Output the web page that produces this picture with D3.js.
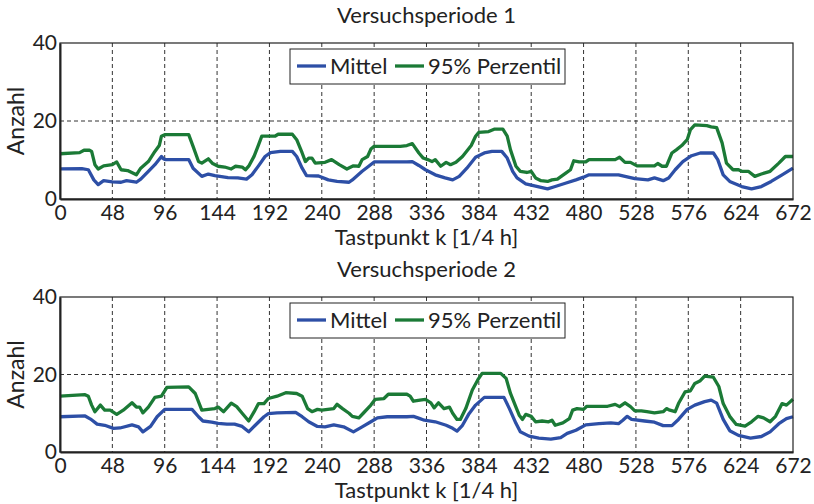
<!DOCTYPE html>
<html>
<head>
<meta charset="utf-8">
<script src="https://cdn.jsdelivr.net/npm/d3@7"></script>
<style>
  body { margin: 0; background: #fff; }
  svg text { font-family: Lato, "Open Sans", sans-serif; fill: #222; }
</style>
</head>
<body>
<svg id="chart" width="814" height="504"></svg>
<script>
// Werte: [Tastpunkt k, Anzahl]
let p1Mittel = [[0,7.7],[20,7.8],[26,7.5],[31,4.9],[35,3.7],[40,4.7],[48,4.4],[56,4.3],[61,4.7],[70,4.3],[74,5.1],[81,7.1],[87,8.8],[93,10.9],[95,10.3],[97,10.1],[118,10.1],[122,7.9],[130,5.8],[136,6.4],[142,6.0],[154,5.5],[163,5.4],[171,5.1],[176,6.2],[182,8.5],[188,10.9],[193,11.9],[202,12.2],[213,12.2],[217,10.9],[222,7.9],[226,6.0],[237,5.9],[246,4.9],[254,4.5],[265,4.3],[268,4.9],[277,7.1],[283,8.4],[288,9.5],[318,9.5],[323,9.6],[329,8.6],[335,7.5],[344,6.2],[353,5.4],[360,4.9],[366,5.8],[373,7.9],[381,10.7],[389,11.8],[396,12.2],[405,12.2],[410,10.5],[415,7.1],[419,5.4],[427,3.9],[438,3.2],[447,2.6],[454,3.2],[464,4.1],[473,4.9],[480,5.6],[485,6.2],[512,6.2],[527,5.2],[539,4.9],[545,5.4],[553,4.7],[558,5.4],[564,7.5],[571,9.6],[579,11.1],[587,11.8],[599,11.8],[603,10.1],[608,6.2],[614,4.5],[625,3.2],[634,2.6],[643,3.2],[652,4.5],[662,6.2],[672,7.9]];

let p1Perzentil = [[0,11.6],[18,11.9],[22,12.5],[27,12.5],[29,12.2],[32,8.8],[35,7.7],[40,8.5],[48,8.8],[52,9.5],[56,7.5],[62,7.3],[70,6.2],[74,7.9],[81,9.6],[87,12.2],[91,13.7],[93,16.1],[96,16.5],[118,16.5],[122,13.5],[127,9.6],[130,9.2],[136,10.3],[140,9.1],[145,8.4],[151,8.2],[157,7.7],[161,8.4],[167,8.2],[170,7.5],[173,8.4],[178,11.0],[182,13.9],[185,16.1],[197,16.1],[200,16.6],[213,16.6],[217,15.2],[222,11.8],[225,9.6],[228,10.5],[231,10.5],[234,9.2],[243,9.4],[249,10.1],[256,8.8],[263,7.7],[269,8.5],[274,8.4],[277,10.1],[282,10.9],[285,12.8],[288,13.5],[312,13.5],[318,13.7],[323,14.2],[329,11.8],[333,10.5],[337,10.1],[341,9.6],[344,10.1],[349,8.4],[354,9.4],[358,8.8],[363,9.4],[369,10.9],[377,13.7],[381,16.1],[384,17.1],[393,17.3],[398,17.9],[406,17.9],[410,16.1],[413,12.6],[418,8.4],[422,7.1],[428,6.8],[432,7.1],[436,5.4],[441,4.7],[447,4.5],[451,4.9],[456,5.1],[464,6.7],[468,7.5],[471,9.8],[476,9.5],[482,9.5],[485,10.1],[509,10.1],[513,10.7],[518,9.4],[523,9.4],[529,8.5],[545,8.5],[548,9.1],[552,8.4],[556,8.4],[561,11.8],[565,12.6],[570,13.7],[575,15.2],[578,17.8],[582,19.0],[593,18.8],[597,18.5],[602,18.3],[607,14.4],[611,9.2],[617,7.5],[622,7.5],[625,7.1],[631,7.1],[637,5.8],[643,6.4],[651,7.1],[659,9.2],[665,10.9],[672,10.9]];

let p2Mittel = [[0,9.1],[23,9.3],[28,8.5],[34,7.2],[41,6.9],[49,6.1],[55,6.2],[66,7.0],[72,6.5],[76,5.2],[83,6.6],[89,9.1],[96,11.0],[121,11.0],[127,9.1],[131,8.0],[139,7.7],[145,7.4],[153,7.2],[160,7.2],[167,6.6],[173,5.2],[179,6.9],[187,9.1],[191,9.9],[199,10.1],[216,10.2],[222,9.1],[228,7.8],[236,6.6],[243,6.5],[251,7.0],[260,6.5],[269,5.2],[277,6.5],[285,7.8],[291,8.8],[300,9.1],[318,9.1],[324,9.2],[330,8.6],[334,8.2],[344,7.8],[354,6.9],[360,6.1],[364,5.4],[369,6.9],[375,9.9],[381,12.1],[389,14.1],[407,14.1],[412,11.2],[418,7.4],[422,5.2],[430,4.1],[439,3.6],[450,3.3],[459,3.7],[465,4.8],[473,5.6],[482,7.0],[494,7.3],[505,7.5],[512,7.3],[516,8.2],[520,9.2],[524,8.4],[536,8.0],[545,7.7],[553,6.8],[561,6.8],[567,8.4],[575,11.0],[582,12.1],[591,13.0],[597,13.4],[602,12.6],[608,8.4],[614,5.5],[622,4.3],[633,3.6],[643,4.0],[651,5.2],[659,7.3],[666,8.6],[672,9.1]];

let p2Perzentil = [[0,14.4],[23,14.8],[26,14.4],[29,12.1],[32,10.4],[37,12.1],[41,10.8],[46,10.8],[52,9.7],[58,10.8],[66,12.7],[70,11.6],[73,11.6],[76,10.1],[81,11.6],[87,14.1],[93,14.4],[98,16.7],[118,16.8],[124,15.1],[130,10.8],[136,11.0],[142,11.2],[145,11.6],[150,10.4],[157,12.6],[162,11.7],[167,10.0],[173,8.0],[178,10.4],[182,12.5],[187,12.5],[191,13.8],[199,14.4],[207,15.3],[217,15.1],[222,14.4],[227,11.2],[231,10.4],[236,11.0],[240,10.8],[251,11.2],[254,12.3],[259,11.2],[265,10.0],[268,9.2],[274,8.8],[278,10.0],[285,12.1],[289,13.6],[297,13.8],[301,14.9],[318,14.9],[321,14.4],[324,13.1],[330,13.4],[335,13.6],[340,12.7],[343,11.4],[347,12.7],[352,11.2],[357,11.6],[360,10.0],[364,8.4],[367,8.4],[372,11.2],[378,16.0],[383,18.6],[387,20.3],[404,20.3],[409,19.0],[413,15.1],[418,11.6],[421,9.5],[424,8.4],[427,9.7],[432,9.2],[436,7.8],[442,8.0],[448,7.8],[451,8.2],[454,6.9],[461,7.5],[467,8.6],[470,10.8],[474,11.2],[480,11.0],[483,11.8],[502,11.8],[509,12.3],[513,11.7],[518,12.7],[523,11.7],[527,10.6],[533,10.6],[538,10.4],[545,10.1],[553,10.4],[556,11.2],[559,10.8],[564,10.4],[567,12.5],[573,15.5],[578,15.8],[582,17.7],[587,18.4],[591,19.6],[599,19.3],[604,16.9],[608,12.5],[614,9.2],[620,7.1],[628,6.7],[634,7.8],[640,9.2],[645,8.8],[651,7.8],[656,9.2],[662,12.5],[666,12.1],[672,13.6]];

let titel = ["Versuchsperiode 1", "Versuchsperiode 2"];
let xTicks = [0, 48, 96, 144, 192, 240, 288, 336, 384, 432, 480, 528, 576, 624, 672];
let yTicks = [0, 20, 40];
let legende = ["Mittel", "95% Perzentil"];

let farben = ["#2d4fa6", "#1b7a36"];
let svg = d3.select("#chart");

let x = d3.scaleLinear().domain([0, 672]).range([60, 793]);

function panel(top, bottom, name, mittel, perz) {
    let y = d3.scaleLinear().domain([0, 40]).range([bottom, top]);
    let g = svg.append("g");

    // gitter gestrichelt
    g.selectAll(".gx")
        .data(xTicks.slice(1, -1))
        .enter().append("line")
        .attr("x1", d => x(d)).attr("x2", d => x(d))
        .attr("y1", top).attr("y2", bottom)
        .attr("stroke", "#333").attr("stroke-width", 1)
        .attr("stroke-dasharray", "4,3");
    g.selectAll(".gy")
        .data(yTicks.slice(1, -1))
        .enter().append("line")
        .attr("x1", x(0)).attr("x2", x(672))
        .attr("y1", d => y(d)).attr("y2", d => y(d))
        .attr("stroke", "#333").attr("stroke-width", 1)
        .attr("stroke-dasharray", "4,3");

    let linie = d3.line()
        .x(d => x(d[0]))
        .y(d => y(d[1]));

    [mittel, perz].forEach((serie, i) => {
        g.append("path")
            .datum(serie)
            .attr("d", linie)
            .attr("fill", "none")
            .attr("stroke", farben[i])
            .attr("stroke-width", 3.3)
            .attr("stroke-linejoin", "round");
    });

    // rahmen
    g.append("rect")
        .attr("x", x(0)).attr("y", top)
        .attr("width", x(672) - x(0)).attr("height", bottom - top)
        .attr("fill", "none").attr("stroke", "#222").attr("stroke-width", 1.2);

    // achsen
    let ax = g.append("g")
        .attr("transform", `translate(0,${bottom})`)
        .call(d3.axisBottom(x).tickValues(xTicks).tickSize(0).tickPadding(6));
    ax.select(".domain").attr("stroke", "#222").attr("stroke-width", 2);
    ax.selectAll("text").style("font-size", "21px").style("font-family", "Lato");

    let ay = g.append("g")
        .attr("transform", `translate(${x(0)},0)`)
        .call(d3.axisLeft(y).tickValues(yTicks).tickSize(0).tickPadding(3));
    ay.select(".domain").attr("stroke", "#222").attr("stroke-width", 2);
    ay.selectAll("text").style("font-size", "21px").style("font-family", "Lato");

    // titel und achsentitel
    g.append("text")
        .attr("x", (x(0) + x(672)) / 2).attr("y", top - 20)
        .attr("text-anchor", "middle")
        .style("font-size", "22px")
        .text(name);
    g.append("text")
        .attr("x", (x(0) + x(672)) / 2).attr("y", bottom + 46)
        .attr("text-anchor", "middle")
        .style("font-size", "22px")
        .text("Tastpunkt k [1/4 h]");
    g.append("text")
        .attr("transform", `translate(24,${(top + bottom) / 2}) rotate(-90)`)
        .attr("text-anchor", "middle")
        .style("font-size", "23px")
        .text("Anzahl");

    // legende
    let lg = g.append("g").attr("transform", `translate(290,${top + 6})`);
    lg.append("rect")
        .attr("width", 275).attr("height", 35)
        .attr("fill", "#fff").attr("stroke", "#222").attr("stroke-width", 1);
    let lx = [7, 105];
    legende.forEach((t, i) => {
        lg.append("line")
            .attr("x1", lx[i]).attr("x2", lx[i] + 29)
            .attr("y1", 17).attr("y2", 17)
            .attr("stroke", farben[i]).attr("stroke-width", 3.3);
        lg.append("text")
            .attr("x", lx[i] + 33).attr("y", 25)
            .style("font-size", "22px")
            .text(t);
    });
}

panel(43, 199, titel[0], p1Mittel, p1Perzentil);
panel(297, 452, titel[1], p2Mittel, p2Perzentil);
</script>
</body>
</html>
